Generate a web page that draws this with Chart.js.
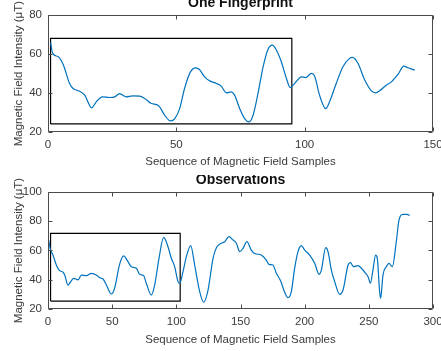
<!DOCTYPE html>
<html><head><meta charset="utf-8">
<script src="https://cdn.jsdelivr.net/npm/chart.js@4"></script>
<style>
html,body{margin:0;padding:0;background:#fff;overflow:hidden;width:441px;height:351px}
canvas{display:block;position:absolute;left:0}
#c1{top:0}
#c2{top:175px}
</style></head><body>
<canvas id="c1" width="441" height="175"></canvas>
<canvas id="c2" width="441" height="176"></canvas>
<script>
// ---- Data: One Fingerprint ----
const fpX = [1, 1.8, 4, 6, 8.4, 9.8, 12.3, 14.3, 17, 18.8, 21.2, 24, 26, 27.9, 30.5, 33, 35.7, 37.7, 40.3, 42.9, 45.5, 47.7, 49.4, 51.3, 53.2, 55.5, 57.5, 59, 61, 63, 65.6, 67.5, 69.5, 71.4, 72.7, 74.7, 76.6, 78.3, 79.9, 81.8, 83.8, 85.7, 87.4, 89, 90.9, 92.9, 94.4, 95.5, 97.4, 98.7, 100.4, 102.6, 103.9, 105.8, 108.2, 109.7, 112.3, 114.9, 117.5, 118.6, 120.8, 123.4, 126, 127.7, 129.2, 131.8, 133.8, 136.4, 138.6, 140.3, 142.9];
const fpY = [66, 60.5, 58.6, 54.4, 45, 42.4, 41, 39, 32.5, 35.6, 38.1, 37.8, 38.1, 39.8, 38.1, 38.6, 38.5, 37.3, 34.7, 33.8, 28.7, 25.8, 27, 32.1, 42.4, 50.9, 53, 52.1, 48.4, 46.3, 45, 43.6, 40.2, 40.7, 39, 32.1, 27, 25.3, 28.7, 39.8, 53.5, 62.4, 64.6, 62, 56.1, 47.5, 42.9, 44.1, 47, 48.4, 48, 50.1, 48.7, 39, 32.1, 35.6, 45, 53.5, 57.8, 58.3, 55.2, 46.7, 41.2, 40.2, 41.2, 44.1, 45.8, 49.7, 53.8, 53, 51.8];
const fpBoxX = [1, 95, 95, 1, 1];
const fpBoxY = [24.3, 24.3, 68, 68, 24.3];

// ---- Data: Observations ----
const obsX = [0.5, 1.8, 3.9, 6.5, 8.6, 11.7, 13, 15.6, 17.4, 20, 23.4, 26, 29.9, 33.8, 37.7, 40.3, 42.9, 45.5, 49.4, 51.9, 55.8, 59, 61.6, 64.9, 68.8, 71.4, 74.5, 76.6, 80.5, 83.1, 86.5, 90.1, 93.5, 96.1, 98.7, 101.3, 102.6, 105.2, 107.8, 111.2, 114.3, 118.2, 121.3, 124.7, 128.6, 131.2, 135, 137.7, 141, 144.2, 146.8, 149.4, 152, 155, 158.4, 161, 166.2, 170.1, 172.2, 175.3, 177.9, 181.3, 184.4, 187, 189.6, 192.2, 194.8, 197.4, 200, 203.9, 207.8, 211.2, 213, 216.4, 218.2, 220.8, 223.4, 227.3, 229.9, 233.8, 235.6, 238.2, 241.6, 244.2, 247.5, 249.4, 251.2, 253.2, 255.3, 256.6, 258.4, 259.2, 261, 263.6, 265.7, 268.3, 271.4, 273.5, 276.6, 279.7, 281.8];
const obsY = [67.1, 61, 56.9, 50.1, 46.7, 45.2, 43.3, 36.5, 38.4, 41.1, 40, 43.3, 42.9, 44.5, 43.3, 41.5, 40.6, 36.5, 30.4, 34.3, 50.6, 56.3, 53.5, 49, 47.9, 43.8, 42.9, 37.7, 29.7, 36.5, 54.7, 68.9, 62.6, 54.7, 49, 38.8, 37.7, 45.6, 55.8, 63.3, 50.1, 32, 24.8, 33.1, 54.7, 61.9, 64.9, 66, 69.4, 67.1, 64.9, 59.2, 61.5, 66, 60.3, 58, 56.9, 53.5, 50.6, 50.1, 44.5, 39.3, 31.6, 27.9, 32, 47.9, 59.2, 63.3, 60.3, 56.9, 51.3, 43.8, 46.7, 61.9, 59.2, 46.7, 38.8, 30.2, 33.1, 50.1, 51.7, 49, 49.7, 47.9, 44.5, 42.2, 37.7, 46.7, 56.9, 54.7, 32, 27.5, 43.3, 49, 51.3, 49, 66, 80.7, 84.6, 84.6, 83.7];
const obsBoxX = [2, 103, 103, 2, 2];
const obsBoxY = [25.6, 25.6, 71.7, 71.7, 25.6];

// ---- Axis settings ----
const fpXRange = [0, 150], fpYRange = [20, 80];
const obsXRange = [0, 300], obsYRange = [20, 100];
const xStep = 50, yStep = 20;

const titles = ['One Fingerprint', 'Observations'];
const xTitle = 'Sequence of Magnetic Field Samples';
const yTitle = 'Magnetic Field Intensity (\u03BCT)';

const FONT = '"Liberation Sans", Arial, Helvetica, sans-serif';
const AXC = '#3a3a3a';

const framePlugin = {
  id: 'frame',
  afterDatasetsDraw(chart) {
    const {ctx, chartArea: a, scales: {x, y}} = chart;
    const L = Math.round(a.left) + 0.5, R = Math.round(a.right) - 0.5;
    const T = Math.round(a.top) + 0.5, B = Math.round(a.bottom) - 0.5;
    ctx.save();
    ctx.strokeStyle = '#4a4a4a';
    ctx.lineWidth = 1;
    ctx.beginPath();
    ctx.rect(L, T, R - L, B - T);
    const tl = 4;
    x.ticks.forEach(t => {
      const px = Math.round(x.getPixelForValue(t.value)) + 0.5;
      ctx.moveTo(px, B); ctx.lineTo(px, B - tl);
      ctx.moveTo(px, T); ctx.lineTo(px, T + tl);
    });
    y.ticks.forEach(t => {
      const py = Math.round(y.getPixelForValue(t.value)) + 0.5;
      ctx.moveTo(L, py); ctx.lineTo(L + tl, py);
      ctx.moveTo(R, py); ctx.lineTo(R - tl, py);
    });
    ctx.stroke();
    const o = chart.options.plugins.frameTitle;
    ctx.fillStyle = '#111';
    ctx.font = 'bold 14px ' + FONT;
    ctx.textAlign = 'center';
    ctx.textBaseline = 'middle';
    ctx.fillText(o.text, (a.left + a.right) / 2, o.y);
    ctx.restore();
  }
};

function makeChart(id, xs, ys, bx, by, xr, yr, o) {
  const line = xs.map((v, i) => ({x: v, y: ys[i]}));
  const box = bx.map((v, i) => ({x: v, y: by[i]}));
  return new Chart(document.getElementById(id), {
    type: 'line',
    data: {
      datasets: [
        {data: line, borderColor: '#0072BD', borderWidth: 1.2, pointRadius: 0,
         cubicInterpolationMode: 'monotone', fill: false},
        {data: box, borderColor: '#000', borderWidth: 1.2, pointRadius: 0,
         tension: 0, fill: false}
      ]
    },
    options: {
      responsive: false,
      animation: false,
      events: [],
      layout: {padding: {left: 0, right: 8, top: o.top, bottom: 0}},
      plugins: {
        legend: {display: false},
        tooltip: {enabled: false},
        title: {display: false},
        frameTitle: {text: o.title, y: o.titleY}
      },
      scales: {
        x: {
          type: 'linear', min: xr[0], max: xr[1],
          ticks: {stepSize: xStep, color: AXC, padding: 6, maxRotation: 0,
                  font: {size: 11.5, family: FONT}},
          grid: {display: false, drawTicks: false},
          border: {display: false},
          title: {display: true, text: xTitle, color: AXC,
                  font: {size: 11.5, family: FONT}, padding: {top: 0, bottom: o.xtPad}},
          afterFit(s) { s.height = o.xh; s.paddingLeft = 0; s.paddingRight = 0; }
        },
        y: {
          type: 'linear', min: yr[0], max: yr[1],
          ticks: {stepSize: yStep, color: AXC, padding: 6,
                  font: {size: 11.5, family: FONT}},
          grid: {display: false, drawTicks: false},
          border: {display: false},
          title: {display: true, text: yTitle, color: AXC,
                  font: {size: 11.5, family: FONT}, padding: {top: 11.5, bottom: 0}},
          afterFit(s) { s.width = 48; s.paddingTop = 0; s.paddingBottom = 0; }
        }
      }
    },
    plugins: [framePlugin]
  });
}

makeChart('c1', fpX, fpY, fpBoxX, fpBoxY, fpXRange, fpYRange,
  {title: titles[0], titleY: 3.5, top: 15, xh: 42.7, xtPad: 6.5});
makeChart('c2', obsX, obsY, obsBoxX, obsBoxY, obsXRange, obsYRange,
  {title: titles[1], titleY: 5.5, top: 16.7, xh: 41.7, xtPad: 4.5});
</script>
</body></html>
